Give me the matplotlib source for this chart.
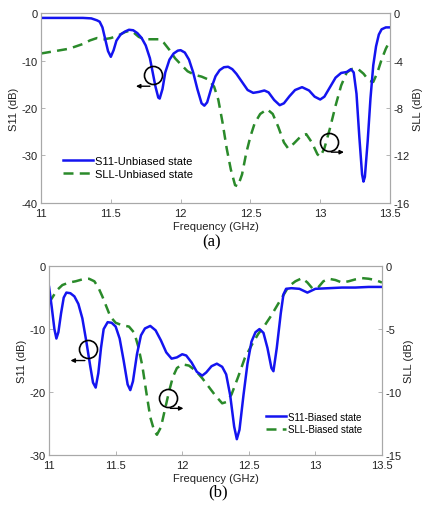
import matplotlib.pyplot as plt
from matplotlib.ticker import FormatStrFormatter

# ---- panel (a): unbiased state ----
freq_a_s11 = [11.0, 11.1, 11.2, 11.3, 11.36, 11.4, 11.42, 11.44, 11.46, 11.48, 11.5, 11.52, 11.54,
              11.57, 11.6, 11.63, 11.66, 11.69, 11.72, 11.75, 11.78, 11.8, 11.82, 11.84, 11.85, 11.87,
              11.89, 11.92, 11.95, 11.98, 12.0, 12.03, 12.06, 12.09, 12.12, 12.15, 12.17, 12.19, 12.22,
              12.25, 12.28, 12.31, 12.34, 12.37, 12.4, 12.44, 12.48, 12.52, 12.56, 12.6, 12.63, 12.67,
              12.71, 12.74, 12.78, 12.82, 12.87, 12.92, 12.96, 13.0, 13.03, 13.07, 13.11, 13.15, 13.19,
              13.22, 13.24, 13.26, 13.28, 13.3, 13.31, 13.32, 13.34, 13.36, 13.38, 13.4, 13.42, 13.44,
              13.47, 13.5]
s11_a = [-1.0, -1.0, -1.0, -1.0, -1.1, -1.5, -1.8, -3.0, -5.5, -8.0, -9.2, -7.8, -5.8,
         -4.5, -3.9, -3.5, -3.6, -4.2, -5.2, -6.8, -9.5, -12.5, -15.5, -17.8, -18.0, -16.0,
         -12.5, -9.8, -8.5, -7.9, -7.8, -8.3, -9.8, -12.5, -16.0, -19.0, -19.5, -18.8, -15.8,
         -13.3, -12.0, -11.4, -11.3, -11.8, -12.8, -14.5, -16.2, -16.8, -16.6, -16.3, -16.7, -18.3,
         -19.4, -19.0, -17.5, -16.2, -15.6, -16.3, -17.6, -18.2, -17.6, -15.6, -13.6, -12.6, -12.4,
         -11.8, -12.5, -17.0, -26.0, -34.0, -35.5, -34.5, -27.0, -18.0, -11.0, -7.0, -4.5, -3.4,
         -3.0, -3.0]

freq_a_sll = [11.0, 11.1, 11.2, 11.25, 11.3, 11.35, 11.4, 11.45, 11.5, 11.55, 11.6, 11.63, 11.66,
              11.7, 11.74, 11.8, 11.85, 11.88, 11.92, 11.96, 12.0, 12.05, 12.1, 12.15, 12.2, 12.24,
              12.27, 12.3, 12.33, 12.36, 12.39, 12.41, 12.44, 12.47, 12.5, 12.53, 12.57, 12.62, 12.66,
              12.7, 12.74, 12.77, 12.81, 12.86, 12.9, 12.94, 12.98, 13.0, 13.03, 13.07, 13.11, 13.15,
              13.19, 13.23, 13.27, 13.31, 13.35, 13.38, 13.41, 13.44, 13.47, 13.5]
sll_a = [-3.4, -3.2, -3.0, -2.8, -2.6, -2.3, -2.1, -2.2, -2.1, -1.9, -1.6, -1.5, -1.6,
         -2.0, -2.2, -2.2, -2.2, -2.5, -3.1, -3.8, -4.3, -4.9, -5.2, -5.35, -5.6, -6.2,
         -7.3, -9.2, -11.4, -13.2, -14.5, -14.6, -13.6, -11.8, -10.4, -9.3, -8.5, -8.1, -8.5,
         -9.6, -10.9, -11.4, -11.0, -10.4, -10.2, -10.9, -11.9, -12.1, -11.4, -9.7, -7.8, -6.1,
         -5.0, -4.7, -4.7, -5.1, -5.7, -5.8, -5.0, -3.9, -3.0, -2.3]

# ---- panel (b): biased state ----
freq_b_s11 = [11.0, 11.02, 11.04, 11.055, 11.07, 11.09, 11.11, 11.13, 11.16, 11.19, 11.22, 11.25,
              11.28, 11.31, 11.33, 11.35, 11.37, 11.39, 11.41, 11.44, 11.47, 11.5, 11.53, 11.56,
              11.59, 11.61, 11.63, 11.66, 11.69, 11.72, 11.76, 11.8, 11.84, 11.88, 11.92, 11.96,
              12.0, 12.03, 12.07, 12.11, 12.15, 12.18, 12.22, 12.26, 12.3, 12.33, 12.36, 12.39,
              12.41, 12.43, 12.46, 12.49, 12.52, 12.55, 12.58, 12.61, 12.64, 12.67, 12.685, 12.71,
              12.74, 12.76, 12.78, 12.82, 12.88, 12.91, 12.94, 12.97, 13.0, 13.1, 13.2, 13.3, 13.4, 13.5]
s11_b = [-3.3, -6.5, -10.0, -11.5, -10.5, -7.5, -5.0, -4.2, -4.3, -4.8, -6.0, -8.3,
         -12.0, -16.0, -18.5, -19.3, -17.0, -13.0, -10.0, -8.9, -9.0, -9.6, -11.5, -15.0,
         -18.8, -19.7, -18.3, -14.0, -11.0, -9.9, -9.5, -10.2, -11.8, -13.7, -14.7, -14.5,
         -14.0, -14.2, -15.3, -16.8, -17.4, -16.9, -15.9, -15.5, -16.0, -17.2, -20.5, -25.5,
         -27.5, -26.0, -20.5, -15.5, -12.0, -10.5, -10.0, -10.6, -13.0, -16.2, -16.7, -13.0,
         -7.5, -4.5, -3.6, -3.5, -3.6, -3.9, -4.2, -3.9, -3.6, -3.5, -3.4, -3.4, -3.3, -3.3]

freq_b_sll = [11.0, 11.03, 11.06, 11.1, 11.15, 11.2, 11.25, 11.3, 11.34, 11.37, 11.4, 11.43, 11.46,
              11.5, 11.55, 11.6, 11.64, 11.67, 11.7, 11.73, 11.76, 11.79, 11.81, 11.84, 11.87, 11.9,
              11.93, 11.96, 12.0, 12.05, 12.1, 12.15, 12.2, 12.25, 12.3, 12.33, 12.37, 12.42, 12.47,
              12.52, 12.57, 12.62, 12.67, 12.72, 12.76, 12.8, 12.85, 12.9, 12.94, 12.98, 13.02, 13.06,
              13.1, 13.15, 13.2, 13.25, 13.3, 13.35, 13.4, 13.45, 13.5]
sll_b = [-2.9, -2.4, -1.9, -1.5, -1.3, -1.2, -1.05, -1.0, -1.2, -1.7, -2.4, -3.2, -4.0,
         -4.5, -4.7, -4.8, -5.3, -6.4, -7.9, -10.0, -12.0, -13.1, -13.4, -12.8, -11.4, -10.0,
         -8.8, -8.1, -7.8, -7.9, -8.3, -8.9, -9.6, -10.3, -10.9, -10.8, -10.2, -8.8, -7.3,
         -6.3, -5.4, -4.7, -3.9, -3.0, -2.3, -1.6, -1.2, -0.95, -1.3, -1.8, -1.7, -1.2,
         -1.0, -1.1, -1.3, -1.2, -1.05, -0.95, -1.0, -1.1, -1.3]

x_ticks = [11, 11.5, 12, 12.5, 13, 13.5]

BLUE = '#1414f0'
GREEN = '#2a8a2a'
SPINE = '#a8a8a8'
plt.rcParams['font.family'] = ['Liberation Sans', 'DejaVu Sans']
plt.rcParams['axes.unicode_minus'] = False


def style_axes(ax, fs):
    for s in ax.spines.values():
        s.set_color(SPINE)
        s.set_linewidth(0.8)
    ax.tick_params(direction='in', length=3, width=0.6, color=SPINE, labelsize=fs,
                   labelcolor='#222222', pad=2.5)
    ax.tick_params(axis='x', pad=4)


def panel(ax, f1, s11, f2, sll, ylim_l, yt_l, ylim_r, yt_r, labels, leg_kw, fs):
    ax.plot(f1, s11, color=BLUE, lw=1.8, label=labels[0], solid_joinstyle='round')
    ax.plot([], [], color=GREEN, lw=1.8, ls=(0, (4, 2.5)), label=labels[1])
    ax.set_xlim(11, 13.5)
    ax.set_ylim(*ylim_l)
    ax.set_xticks(x_ticks)
    ax.xaxis.set_major_formatter(FormatStrFormatter('%g'))
    ax.set_yticks(yt_l)
    ax.set_ylabel('S11 (dB)', fontsize=fs, labelpad=2, color='#222222')
    ax.set_xlabel('Frequency (GHz)', fontsize=fs, labelpad=1.5, color='#222222')
    style_axes(ax, fs)

    ax2 = ax.twinx()
    ax2.plot(f2, sll, color=GREEN, lw=1.8, ls=(0, (4, 2.5)))
    ax2.set_ylim(*ylim_r)
    ax2.set_yticks(yt_r)
    ax2.set_ylabel('SLL (dB)', fontsize=fs, labelpad=2, color='#222222')
    style_axes(ax2, fs)

    ax.set_zorder(ax2.get_zorder() + 1)
    ax.patch.set_visible(False)
    ax.legend(frameon=False, handletextpad=0.2, labelspacing=0.25, borderaxespad=0, **leg_kw)
    return ax2


fig = plt.figure(figsize=(4.23, 5.06), dpi=100)
ax_a = fig.add_axes([0.097, 0.597, 0.825, 0.375])
ax_b = fig.add_axes([0.116, 0.099, 0.787, 0.373])

panel(ax_a, freq_a_s11, s11_a, freq_a_sll, sll_a, (-40, 0), [-40, -30, -20, -10, 0],
      (-16, 0), [-16, -12, -8, -4, 0], ['S11-Unbiased state', 'SLL-Unbiased state'],
      dict(loc='lower left', bbox_to_anchor=(0.051, 0.103), fontsize=8, handlelength=2.7), 8)
panel(ax_b, freq_b_s11, s11_b, freq_b_sll, sll_b, (-30, 0), [-30, -20, -10, 0],
      (-15, 0), [-15, -10, -5, 0], ['S11-Biased state', 'SLL-Biased state'],
      dict(loc='lower left', bbox_to_anchor=(0.64, 0.09), fontsize=7, handlelength=2.1), 8)

# circle-and-arrow markers showing which axis each curve belongs to
def axis_marker(ax, x, y, x_end, y_arrow):
    ax.plot([x], [y], marker='o', ms=13, mfc='none', mec='black', mew=1.2)
    ax.annotate('', xy=(x_end, y_arrow), xytext=(x, y_arrow),
                arrowprops=dict(arrowstyle='-|>', color='black', lw=1.0, mutation_scale=6))

axis_marker(ax_a, 11.8, -13.1, 11.66, -15.4)
axis_marker(ax_a, 13.06, -27.1, 13.19, -29.3)
axis_marker(ax_b, 11.29, -13.2, 11.14, -15.0)
axis_marker(ax_b, 11.89, -20.9, 12.03, -22.6)

fig.text(0.5, 0.521, '(a)', ha='center', va='center', fontsize=12, family='Liberation Serif')
fig.text(0.515, 0.027, '(b)', ha='center', va='center', fontsize=12, family='Liberation Serif')

fig.savefig('out.png', dpi=100)
